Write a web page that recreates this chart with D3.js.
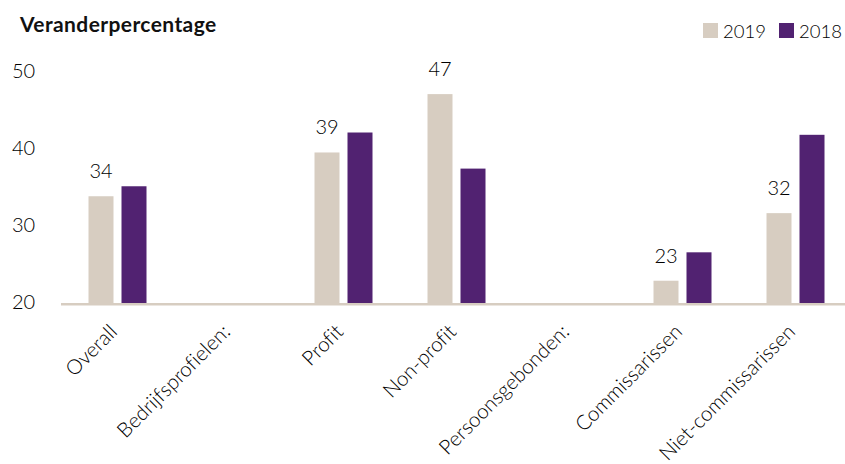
<!DOCTYPE html>
<html>
<head>
<meta charset="utf-8">
<script src="https://cdn.jsdelivr.net/npm/d3@7"></script>
<style>
	body { margin: 0; background: #fff; }
	svg { display: block; font-family: Lato, 'Open Sans', sans-serif; font-variant-ligatures: none; }
</style>
</head>
<body>
<div id="chart"></div>
<script>
// Data
const categories = ['Overall', 'Bedrijfsprofielen:', 'Profit', 'Non-profit', 'Persoonsgebonden:', 'Commissarissen', 'Niet-commissarissen'];
const series = ['2019', '2018'];
const values2019 = [33.9, null, 39.6, 47.2, null, 22.9, 31.7];
const values2018 = [35.2, null, 42.2, 37.5, null, 26.6, 41.9];
const labels2019 = ['34', '', '39', '47', '', '23', '32'];
const yTicks = [20, 30, 40, 50];

const width = 845;
const height = 464;
const colors = { '2019': '#d7cdc1', '2018': '#512271' };

const rows = categories.map((c, i) => ({
	cat: c,
	bars: [
		{ key: '2019', value: values2019[i] },
		{ key: '2018', value: values2018[i] }
	],
	label: labels2019[i]
}));

const svg = d3.select('#chart')
	.append('svg')
	.attr('width', width)
	.attr('height', height);

// Scales
const x0 = d3.scaleBand().domain(categories).range([61, 852]);
const x1 = d3.scaleBand().domain(series).range([-29, 29]).paddingInner(0.2424);
const y = d3.scaleLinear().domain([20, 50]).range([303, 72.6]);

// Title
svg.append('text')
	.attr('x', 20)
	.attr('y', 32)
	.style('font-size', '21px')
	.style('font-weight', 'bold')
	.style('letter-spacing', '0.4px')
	.style('fill', '#111')
	.text('Veranderpercentage');

// Y tick labels (no axis line)
svg.selectAll('.ytick')
	.data(yTicks)
	.enter()
	.append('text')
	.attr('class', 'ytick')
	.attr('x', 12)
	.attr('y', (d) => y(d) - 1.5)
	.attr('dy', '0.35em')
	.style('font-size', '20px')
	.style('font-weight', 300)
	.style('fill', '#000')
	.text((d) => d);

// Bars
const group = svg.selectAll('.grp')
	.data(rows)
	.enter()
	.append('g')
	.attr('class', 'grp')
	.attr('transform', (d) => `translate(${x0(d.cat) + x0.bandwidth() / 2},0)`);

group.selectAll('rect')
	.data((d) => d.bars.filter((b) => b.value != null))
	.enter()
	.append('rect')
	.attr('x', (d) => x1(d.key))
	.attr('y', (d) => y(d.value))
	.attr('width', x1.bandwidth())
	.attr('height', (d) => y(20) - y(d.value))
	.attr('fill', (d) => colors[d.key]);

// Value labels above the 2019 bars
group.filter((d) => d.label !== '')
	.append('text')
	.attr('x', x1('2019') + x1.bandwidth() / 2)
	.attr('y', (d) => y(d.bars[0].value) - 18)
	.attr('text-anchor', 'middle')
	.style('font-size', '20px')
	.style('font-weight', 300)
	.style('fill', '#000')
	.text((d) => d.label);

// Baseline
svg.append('line')
	.attr('x1', 61)
	.attr('x2', width)
	.attr('y1', y(20) + 1.2)
	.attr('y2', y(20) + 1.2)
	.attr('stroke', '#d7cdc1')
	.attr('stroke-width', 2.5);

// Rotated category labels
svg.selectAll('.xlabel')
	.data(categories)
	.enter()
	.append('text')
	.attr('class', 'xlabel')
	.attr('transform', (d) => `translate(${x0(d) + x0.bandwidth() / 2 + 1},333) rotate(-45)`)
	.attr('text-anchor', 'end')
	.style('font-size', '20.5px')
	.style('font-weight', 300)
	.style('fill', '#000')
	.text((d) => d);

// Legend
const legend = svg.append('g')
	.selectAll('g')
	.data(series)
	.enter()
	.append('g')
	.attr('transform', (d, i) => `translate(${703 + i * 76},23)`);

legend.append('rect')
	.attr('width', 15)
	.attr('height', 15)
	.attr('fill', (d) => colors[d]);

legend.append('text')
	.attr('x', 20)
	.attr('y', 15)
	.style('font-size', '18.5px')
	.style('font-weight', 300)
	.style('fill', '#000')
	.text((d) => d);
</script>
</body>
</html>
